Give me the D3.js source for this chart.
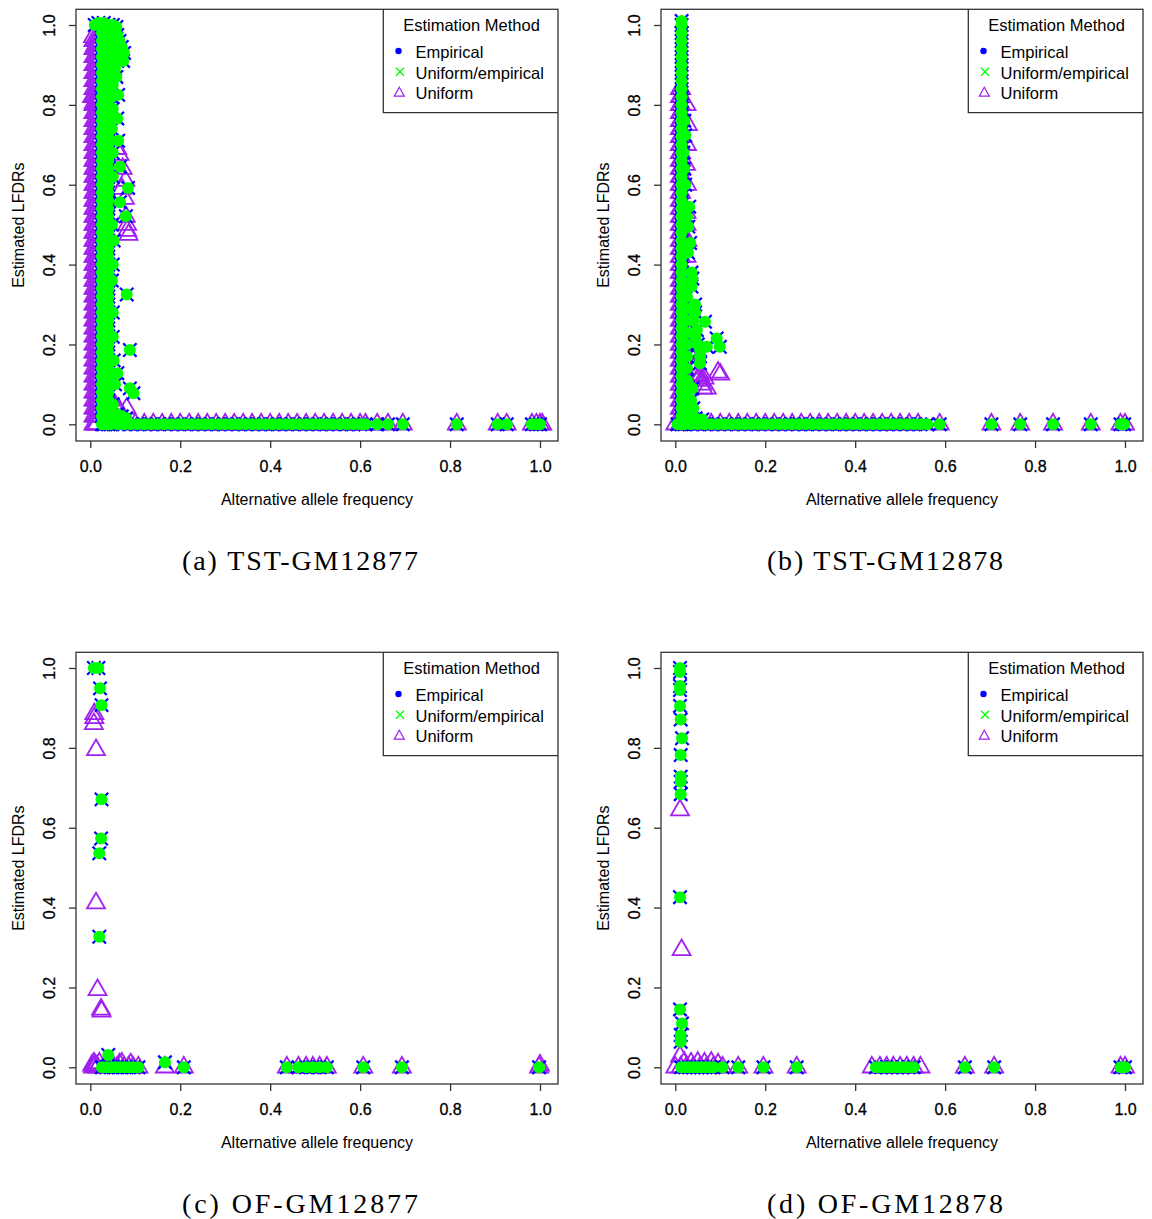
<!DOCTYPE html>
<html>
<head>
<meta charset="utf-8">
<script src="https://cdn.jsdelivr.net/npm/d3@7"></script>
<style>
  body { margin: 0; background: #fff; }
  text { font-family: "Liberation Sans", Arial, sans-serif; fill: #000; }
</style>
</head>
<body>
<svg id="chart"></svg>
<script>
// ---- data ----
var xTicks = [0, 0.2, 0.4, 0.6, 0.8, 1.0];
var yTicks = [0, 0.2, 0.4, 0.6, 0.8, 1.0];
var legendTitle = "Estimation Method";
var legendLabels = ["Empirical", "Uniform/empirical", "Uniform"];
var xTitle = "Alternative allele frequency";
var yTitle = "Estimated LFDRs";
var captions = ["(a) TST-GM12877", "(b) TST-GM12878", "(c) OF-GM12877", "(d) OF-GM12878"];

// (a) TST-GM12877 : empirical / uniform-empirical (same spots)
var aEmpColAf = [0.026, 0.040];
var aEmpColLfdr = [0, .02, .04, .06, .08, .10, .12, .14, .16, .18, .20, .22, .24, .26, .28, .30, .32, .34, .36, .38,
  .40, .42, .44, .46, .48, .50, .52, .54, .56, .58, .60, .62, .64, .66, .68, .70, .72, .74, .76, .78,
  .80, .82, .84, .86, .88, .90, .92, .94, .96, .98, 1.0];
var aEmpRowAf = [0.03, 0.045, 0.06, 0.075, 0.09, 0.105, 0.12, 0.135, 0.15, 0.165, 0.18, 0.195, 0.21, 0.225, 0.24,
  0.255, 0.27, 0.285, 0.30, 0.315, 0.33, 0.345, 0.36, 0.375, 0.39, 0.405, 0.42, 0.435, 0.45, 0.465, 0.48, 0.495,
  0.51, 0.525, 0.54, 0.555, 0.57, 0.585, 0.60, 0.612, 0.638, 0.662, 0.695, 0.815, 0.906, 0.926, 0.982, 0.992, 1.0];
var aEmpExtra = [[0.010, 1.0], [0.018, 1.005], [0.03, 1.005], [0.04, 1.0], [0.05, 1.0], [0.058, 0.995],
  [0.05, 0.98], [0.06, 0.975], [0.065, 0.96], [0.07, 0.945], [0.075, 0.93], [0.073, 0.91], [0.06, 0.95],
  [0.055, 0.93], [0.06, 0.91], [0.055, 0.89], [0.058, 0.87], [0.05, 0.85], [0.048, 0.82], [0.062, 0.825],
  [0.05, 0.79], [0.06, 0.766], [0.048, 0.74], [0.062, 0.71], [0.05, 0.68], [0.066, 0.645], [0.05, 0.62],
  [0.084, 0.592], [0.066, 0.556], [0.079, 0.521], [0.048, 0.5], [0.052, 0.46], [0.05, 0.4], [0.048, 0.36],
  [0.081, 0.325], [0.05, 0.28], [0.05, 0.219], [0.088, 0.186], [0.052, 0.16], [0.06, 0.128], [0.055, 0.1],
  [0.088, 0.09], [0.096, 0.078], [0.05, 0.05], [0.045, 0.03], [0.06, 0.025], [0.07, 0.02], [0.08, 0.015],
  [0.055, 0.015]];
// (a) uniform
var aUniColAf = [0.007, 0.011, 0.014];
var aUniColLfdr = [0, .02, .04, .06, .08, .10, .12, .14, .16, .18, .20, .22, .24, .26, .28, .30, .32, .34, .36, .38,
  .40, .42, .44, .46, .48, .50, .52, .54, .56, .58, .60, .62, .64, .66, .68, .70, .72, .74, .76, .78,
  .80, .82, .84, .86, .88, .90, .92, .94, .96];
var aUniRowAf = [0.10, 0.12, 0.14, 0.16, 0.18, 0.20, 0.22, 0.24, 0.26, 0.28, 0.30, 0.32, 0.34, 0.36, 0.38, 0.40,
  0.42, 0.44, 0.46, 0.48, 0.50, 0.52, 0.54, 0.56, 0.58, 0.60, 0.612, 0.638, 0.662, 0.695, 0.815, 0.906, 0.926,
  0.982, 0.992, 1.0, 1.005];
var aUniExtra = [[0.004, 0.82], [0.008, 0.805], [0.012, 0.81], [0.006, 0.97], [0.012, 0.95],
  [0.072, 0.64], [0.078, 0.61], [0.07, 0.59], [0.077, 0.565], [0.079, 0.52], [0.082, 0.5], [0.082, 0.485],
  [0.085, 0.475], [0.06, 0.69], [0.065, 0.675], [0.055, 0.048], [0.065, 0.035], [0.081, 0.04], [0.045, 0.06],
  [0.05, 0.02], [0.07, 0.015]];

// (b) TST-GM12878
var bEmpColAf = [0.014];
var bEmpColLfdr = [0, .02, .04, .06, .08, .10, .12, .14, .16, .18, .20, .22, .24, .26, .28, .30, .32, .34, .36, .38,
  .40, .42, .44, .46, .48, .50, .52, .54, .56, .58, .60, .62, .64, .66, .68, .70, .72, .74, .76, .78,
  .80, .82, .84, .86, .88, .90, .92, .94, .96, .98, 1.0, 1.01];
var bEmpRowAf = [0.005, 0.02, 0.035, 0.05, 0.065, 0.08, 0.095, 0.11, 0.125, 0.14, 0.155, 0.17, 0.185, 0.2, 0.215,
  0.23, 0.245, 0.26, 0.275, 0.29, 0.305, 0.32, 0.335, 0.35, 0.365, 0.38, 0.395, 0.41, 0.425, 0.44, 0.455, 0.47,
  0.485, 0.5, 0.515, 0.53, 0.545, 0.56, 0.588, 0.703, 0.767, 0.84, 0.924, 0.99, 0.998];
var bEmpExtra = [[0.026, 0.02], [0.026, 0.05], [0.026, 0.08], [0.026, 0.11], [0.026, 0.14], [0.026, 0.17],
  [0.026, 0.2], [0.026, 0.23], [0.026, 0.26], [0.026, 0.29], [0.026, 0.32], [0.035, 0.02], [0.04, 0.04],
  [0.035, 0.06], [0.045, 0.015], [0.06, 0.012], [0.038, 0.09], [0.022, 0.724], [0.02, 0.76], [0.018, 0.68],
  [0.02, 0.64], [0.022, 0.60], [0.031, 0.545], [0.026, 0.52], [0.029, 0.495], [0.033, 0.454], [0.028, 0.43],
  [0.036, 0.38], [0.038, 0.365], [0.036, 0.345], [0.044, 0.30], [0.044, 0.28], [0.04, 0.26], [0.066, 0.257],
  [0.048, 0.236], [0.045, 0.22], [0.092, 0.215], [0.099, 0.194], [0.07, 0.194], [0.055, 0.186], [0.05, 0.2],
  [0.055, 0.17], [0.055, 0.153]];
var bUniColAf = [0.010, 0.013];
var bUniColLfdr = [0, .02, .04, .06, .08, .10, .12, .14, .16, .18, .20, .22, .24, .26, .28, .30, .32, .34, .36, .38,
  .40, .42, .44, .46, .48, .50, .52, .54, .56, .58, .60, .62, .64, .66, .68, .70, .72, .74, .76, .78,
  .80, .82, .84];
var bUniRowAf = [0.0, 0.02, 0.04, 0.06, 0.08, 0.10, 0.12, 0.14, 0.16, 0.18, 0.20, 0.22, 0.24, 0.26, 0.28, 0.30,
  0.32, 0.34, 0.36, 0.38, 0.40, 0.42, 0.44, 0.46, 0.48, 0.50, 0.52, 0.54, 0.588, 0.703, 0.767, 0.84, 0.924,
  0.99, 1.0];
var bUniExtra = [[0.025, 0.8], [0.028, 0.75], [0.026, 0.7], [0.024, 0.65], [0.026, 0.6], [0.025, 0.53],
  [0.025, 0.5], [0.027, 0.46], [0.025, 0.42], [0.028, 0.245], [0.028, 0.2], [0.03, 0.18], [0.05, 0.11],
  [0.055, 0.124], [0.058, 0.11], [0.06, 0.1], [0.062, 0.09], [0.07, 0.09], [0.065, 0.115], [0.095, 0.13],
  [0.1, 0.125], [0.04, 0.14], [0.045, 0.12]];

// (c) OF-GM12877
var cEmpColAf = [];
var cEmpColLfdr = [];
var cEmpRowAf = [0.026, 0.036, 0.046, 0.056, 0.066, 0.076, 0.086, 0.096, 0.107, 0.208, 0.437, 0.463, 0.48,
  0.495, 0.51, 0.526, 0.607, 0.693, 0.998];
var cEmpExtra = [[0.008, 1.0], [0.018, 1.0], [0.0216, 0.949], [0.025, 0.907], [0.025, 0.671], [0.024, 0.573],
  [0.02, 0.536], [0.02, 0.327], [0.04, 0.031], [0.166, 0.0125]];
var cUniColAf = [];
var cUniColLfdr = [];
var cUniRowAf = [0.03, 0.045, 0.06, 0.075, 0.085, 0.095, 0.107, 0.166, 0.208, 0.437, 0.463, 0.48, 0.495, 0.51,
  0.526, 0.607, 0.693, 0.998];
var cUniExtra = [[0.009, 0.885], [0.009, 0.875], [0.008, 0.86], [0.0127, 0.795], [0.0127, 0.411],
  [0.016, 0.194], [0.024, 0.145], [0.025, 0.14], [0.004, 0.005], [0.008, 0.01], [0.012, 0.005], [0.016, 0.0],
  [0.02, 0.01], [0.006, 0.0], [0.01, 0.003], [0.05, 0.005], [0.065, 0.008], [0.07, 0.01], [0.09, 0.008],
  [1.0, 0.005]];

// (d) OF-GM12878
var dEmpColAf = [];
var dEmpColLfdr = [];
var dEmpRowAf = [0.013, 0.022, 0.031, 0.04, 0.049, 0.058, 0.067, 0.076, 0.085, 0.105, 0.14, 0.196, 0.27, 0.446,
  0.458, 0.47, 0.482, 0.494, 0.506, 0.518, 0.53, 0.644, 0.709, 0.99, 1.0];
var dEmpExtra = [[0.0105, 1.0], [0.0105, 0.99], [0.0105, 0.955], [0.0105, 0.945], [0.0105, 0.905],
  [0.012, 0.871], [0.015, 0.824], [0.012, 0.782], [0.012, 0.728], [0.012, 0.715], [0.012, 0.684],
  [0.0105, 0.426], [0.0105, 0.145], [0.015, 0.11], [0.012, 0.081], [0.012, 0.064]];
var dUniColAf = [];
var dUniColLfdr = [];
var dUniRowAf = [0.0, 0.012, 0.025, 0.04, 0.055, 0.07, 0.085, 0.105, 0.14, 0.196, 0.27, 0.437, 0.455, 0.47,
  0.485, 0.5, 0.515, 0.53, 0.545, 0.644, 0.709, 0.99, 1.0];
var dUniExtra = [[0.0105, 0.644], [0.014, 0.294], [0.0105, 0.027], [0.02, 0.012], [0.035, 0.01], [0.05, 0.012],
  [0.065, 0.01], [0.08, 0.012], [0.095, 0.008]];

// ---- build point lists ----
function buildPoints(colAf, colLfdr, rowAf, extra) {
  var pts = [];
  colAf.forEach(function(a) { colLfdr.forEach(function(l) { pts.push([a, l]); }); });
  rowAf.forEach(function(a) { pts.push([a, 0]); });
  extra.forEach(function(p) { pts.push(p); });
  return pts;
}

var panels = [
  {emp: buildPoints(aEmpColAf, aEmpColLfdr, aEmpRowAf, aEmpExtra), uni: buildPoints(aUniColAf, aUniColLfdr, aUniRowAf, aUniExtra), dx: 0, dy: 0},
  {emp: buildPoints(bEmpColAf, bEmpColLfdr, bEmpRowAf, bEmpExtra), uni: buildPoints(bUniColAf, bUniColLfdr, bUniRowAf, bUniExtra), dx: 585, dy: 0},
  {emp: buildPoints(cEmpColAf, cEmpColLfdr, cEmpRowAf, cEmpExtra), uni: buildPoints(cUniColAf, cUniColLfdr, cUniRowAf, cUniExtra), dx: 0, dy: 643},
  {emp: buildPoints(dEmpColAf, dEmpColLfdr, dEmpRowAf, dEmpExtra), uni: buildPoints(dUniColAf, dUniColLfdr, dUniRowAf, dUniExtra), dx: 585, dy: 643}
];

var BLUE = "#0000ff", GREEN = "#00ff00", PURPLE = "#a020f0";

var svg = d3.select("#chart").attr("width", 1152).attr("height", 1219);

// plot box inside each panel
var box = {left: 76, right: 558, top: 9.3, bottom: 441};
var x = d3.scaleLinear().domain([0, 1]).range([90.3, 540]);
var y = d3.scaleLinear().domain([0, 1]).range([424.3, 25]);

var triPath = "M0,-10.4L9,5.2L-9,5.2Z";
var crossPath = "M-6.7,-6.7L6.7,6.7M-6.7,6.7L6.7,-6.7";

panels.forEach(function(p, i) {
  var g = svg.append("g").attr("transform", "translate(" + p.dx + "," + p.dy + ")");

  // points: uniform triangles, then blue crosses, then green discs
  g.append("g").selectAll("path").data(p.uni).enter().append("path")
    .attr("d", triPath)
    .attr("transform", function(d) { return "translate(" + x(d[0]) + "," + y(d[1]) + ")"; })
    .attr("fill", "none").attr("stroke", PURPLE).attr("stroke-width", 1.8);

  g.append("g").selectAll("path").data(p.emp).enter().append("path")
    .attr("d", crossPath)
    .attr("transform", function(d) { return "translate(" + x(d[0]) + "," + y(d[1]) + ")"; })
    .attr("fill", "none").attr("stroke", BLUE).attr("stroke-width", 2.2);

  g.append("g").selectAll("circle").data(p.emp).enter().append("circle")
    .attr("cx", function(d) { return x(d[0]); })
    .attr("cy", function(d) { return y(d[1]); })
    .attr("r", 6).attr("fill", GREEN);

  // box
  g.append("rect")
    .attr("x", box.left).attr("y", box.top)
    .attr("width", box.right - box.left).attr("height", box.bottom - box.top)
    .attr("fill", "none").attr("stroke", "#333").attr("stroke-width", 1.3);

  // axes
  var xa = g.append("g").attr("transform", "translate(0," + box.bottom + ")")
    .call(d3.axisBottom(x).tickValues(xTicks).tickFormat(d3.format(".1f")).tickSize(7));
  xa.select(".domain").remove();
  xa.selectAll("line").attr("stroke", "#333").attr("stroke-width", 1.3);
  xa.selectAll("text").attr("y", 30.5).attr("dy", null)
    .style("font-family", "'Liberation Sans', Arial, sans-serif").style("font-size", "16px")
    .attr("fill", "#000").attr("stroke", "#000").attr("stroke-width", 0.3);

  var ya = g.append("g").attr("transform", "translate(" + box.left + ",0)")
    .call(d3.axisLeft(y).tickValues(yTicks).tickFormat(d3.format(".1f")).tickSize(7));
  ya.select(".domain").remove();
  ya.selectAll("line").attr("stroke", "#333").attr("stroke-width", 1.3);
  ya.selectAll("text").attr("x", null).attr("dy", null)
    .attr("transform", "translate(-21,0) rotate(-90)")
    .attr("text-anchor", "middle")
    .style("font-family", "'Liberation Sans', Arial, sans-serif").style("font-size", "16px")
    .attr("fill", "#000").attr("stroke", "#000").attr("stroke-width", 0.3);

  // axis titles
  g.append("text").attr("x", (box.left + box.right) / 2).attr("y", 505)
    .attr("text-anchor", "middle").style("font-size", "16px").text(xTitle);
  g.append("text")
    .attr("transform", "translate(24," + ((box.top + box.bottom) / 2) + ") rotate(-90)")
    .attr("text-anchor", "middle").style("font-size", "16px").text(yTitle);

  // legend
  var lg = g.append("g");
  lg.append("path")
    .attr("d", "M383.3," + box.top + "V112.7H" + box.right)
    .attr("fill", "none").attr("stroke", "#333").attr("stroke-width", 1.3);
  lg.append("text").attr("x", 471.5).attr("y", 30.5).attr("text-anchor", "middle")
    .style("font-size", "16.5px").text(legendTitle);
  var ly = [58, 78.5, 99];
  lg.selectAll("text.lab").data(legendLabels).enter().append("text")
    .attr("class", "lab").attr("x", 415.5).attr("y", function(d, k) { return ly[k]; })
    .style("font-size", "16.5px").text(function(d) { return d; });
  lg.append("circle").attr("cx", 398.5).attr("cy", 51).attr("r", 3.2).attr("fill", BLUE);
  lg.append("path").attr("d", "M396,67.7L404,75.7M396,75.7L404,67.7")
    .attr("stroke", GREEN).attr("stroke-width", 1.3);
  lg.append("path").attr("d", "M399.3,87.3L404.3,96.1L394.3,96.1Z")
    .attr("fill", "none").attr("stroke", PURPLE).attr("stroke-width", 1.2);

  // caption
  g.append("text").attr("x", 300).attr("y", 570).attr("text-anchor", "middle")
    .style("font-family", "'Liberation Serif', 'Times New Roman', serif").style("font-size", "28px")
    .attr("textLength", 236).attr("lengthAdjust", "spacing")
    .text(captions[i]);
});
</script>
</body>
</html>
